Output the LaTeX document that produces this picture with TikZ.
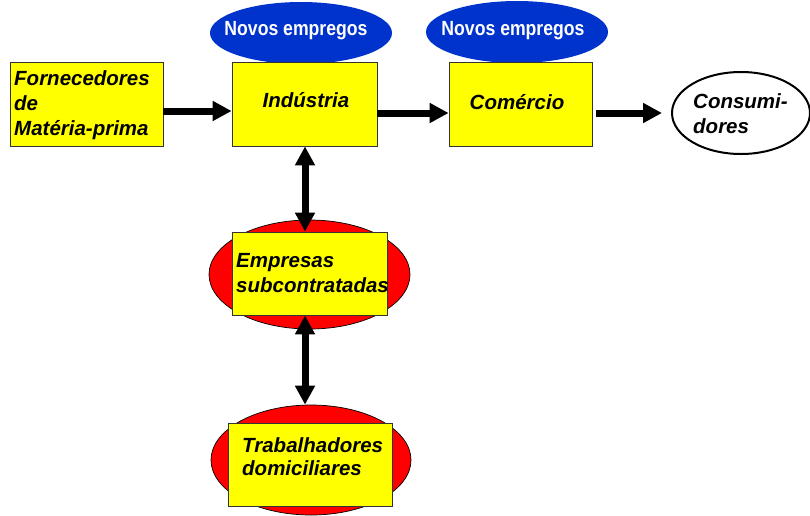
\documentclass[tikz,border=0pt]{standalone}
\usepackage{fontspec}
\setmainfont{Liberation Sans}
\usetikzlibrary{shapes.geometric,arrows.meta}
\definecolor{boxyellow}{HTML}{FFFF00}
\definecolor{ellred}{HTML}{FF0000}
\definecolor{ellblue}{HTML}{0033CC}
\begin{document}
\begin{tikzpicture}[x=1pt,y=-1pt,
  ybox/.style={draw=black!80,line width=0.8pt,fill=boxyellow,rectangle,inner sep=0pt},
  redell/.style={draw=black,line width=0.7pt,fill=ellred,ellipse,inner sep=0pt},
  blueell/.style={fill=ellblue,ellipse,inner sep=0pt},
  btxt/.style={font=\fontsize{20.5}{24}\selectfont\bfseries\itshape,inner sep=0pt,anchor=base west},
  ntxt/.style={font=\fontsize{20.5}{24}\selectfont\bfseries,text=white,inner sep=0pt,anchor=base},
  bigarrow/.style={line width=7pt,-{Triangle[width=19pt,length=19pt]}},
  dblarrow/.style={line width=7pt,{Triangle[width=19pt,length=19pt]}-{Triangle[width=19pt,length=19pt]}}
]
\useasboundingbox (0,0) rectangle (810,515);
% ellipses below boxes
\node[blueell,minimum width=182pt,minimum height=62pt] (nov1) at (301,33) {};
\node[blueell,minimum width=182pt,minimum height=62pt] (nov2) at (517,32) {};
\node[redell,minimum width=201pt,minimum height=109pt] (empell) at (309.5,274.5) {};
\node[redell,minimum width=200pt,minimum height=110pt] (trabell) at (311,460) {};
\node[draw=black,line width=2pt,fill=white,ellipse,inner sep=0pt,minimum width=138pt,minimum height=82pt] (cons) at (741,113) {};
% boxes
\node[ybox,minimum width=153pt,minimum height=84pt] (forn) at (86.5,104) {};
\node[ybox,minimum width=145pt,minimum height=84pt] (ind) at (304.5,104) {};
\node[ybox,minimum width=143pt,minimum height=84pt] (com) at (520.5,104) {};
\node[ybox,minimum width=155pt,minimum height=83pt] (empbox) at (309.5,273.5) {};
\node[ybox,minimum width=164pt,minimum height=83pt] (trabbox) at (310,464.5) {};
% texts
\node[ntxt] (nov1t) at (296,35) {\scalebox{0.86}[1]{Novos empregos}};
\node[ntxt] (nov2t) at (513,35) {\scalebox{0.86}[1]{Novos empregos}};
\node[btxt] (forn1) at (14,85) {Fornecedores};
\node[btxt] (forn2) at (14,110) {de};
\node[btxt] (forn3) at (14,135) {Matéria-prima};
\node[btxt,anchor=base] (indt) at (306,107) {Indústria};
\node[btxt,anchor=base] (comt) at (517,109) {Comércio};
\node[btxt] (cons1) at (693,108) {Consumi-};
\node[btxt] (cons2) at (693,133) {dores};
\node[btxt] (emp1) at (236,267) {Empresas};
\node[btxt] (emp2) at (236,292) {subcontratadas};
\node[btxt] (trab1) at (242,452) {Trabalhadores};
\node[btxt] (trab2) at (242,475) {domiciliares};
% connectors
\draw[bigarrow] ([yshift=-7pt]forn.east) -- ([yshift=-7pt]ind.west);
\draw[bigarrow] ([yshift=-9pt]ind.east) -- ([yshift=-9pt]com.west);
\draw[bigarrow,shorten <=4pt,shorten >=9pt] ([yshift=-9pt]com.east) -- (cons.west);
\draw[dblarrow] ([xshift=0.5pt]ind.south) -- ([xshift=0.5pt]ind.south |- empbox.north);
\draw[dblarrow] ([xshift=0.5pt]ind.south |- empbox.south) -- ([xshift=0.5pt]ind.south |- trabell.north);
\end{tikzpicture}
\end{document}
